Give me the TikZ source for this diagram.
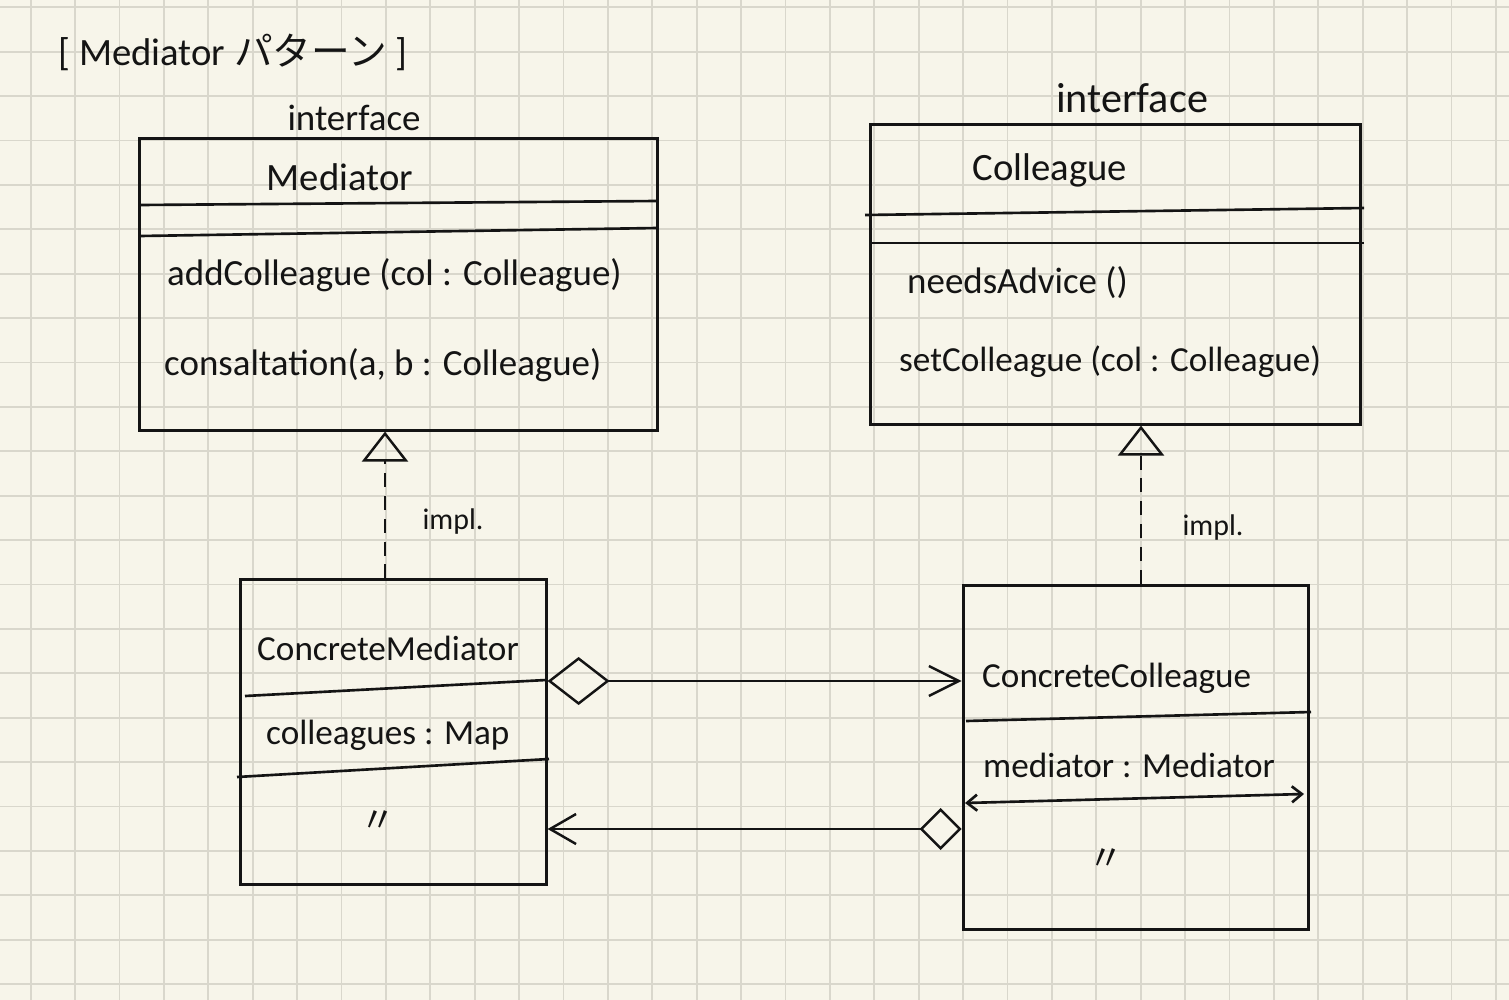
\documentclass[tikz,border=0pt]{standalone}
\usepackage{fontspec}
\setmainfont{Carlito}
\newfontfamily\jpfont{Noto Sans CJK JP}
\usetikzlibrary{positioning,arrows.meta}
\definecolor{paper}{HTML}{F7F5EA}
\definecolor{gridc}{HTML}{D9D7CC}
\definecolor{ink}{HTML}{141414}
\tikzset{
  gridline/.style={draw=gridc, line width=0.55pt},
  classbox/.style={draw=ink, line width=0.85pt, inner sep=0pt},
  divline/.style={draw=ink, line width=0.75pt},
  cname/.style={font=\fontsize{11}{13}\selectfont, text=ink, inner sep=1pt},
  member/.style={font=\fontsize{10.5}{12.5}\selectfont, text=ink, anchor=west, inner sep=1pt},
  smalltext/.style={font=\fontsize{10}{12}\selectfont},
  stereo/.style={font=\fontsize{10.5}{12.5}\selectfont, text=ink, inner sep=1pt},
  implabel/.style={font=\fontsize{8.5}{10}\selectfont, text=ink, inner sep=1pt},
  ditto/.style={font=\jpfont\fontsize{10}{12}\selectfont, text=ink, inner sep=1pt},
  titlelabel/.style={font=\fontsize{11}{13}\selectfont, text=ink, inner sep=1pt},
  realize/.style={draw=ink, line width=0.7pt, dash pattern=on 4pt off 2.5pt, -{Triangle[open, length=0.3cm, width=0.46cm]}},
  aggr/.style={draw=ink, line width=0.7pt, {Diamond[open, length=0.62cm, width=0.48cm]}-{Straight Barb[length=0.3cm, width=0.3cm]}},
  aggrsmall/.style={draw=ink, line width=0.7pt, {Diamond[open, length=0.42cm, width=0.42cm]}-{Straight Barb[length=0.26cm, width=0.3cm]}}
}
\begin{document}
\begin{tikzpicture}[x=0.01cm, y=-0.01cm]
  \fill[paper] (0,0) rectangle (1509,1000);
  \useasboundingbox (0,0) rectangle (1509,1000);
  \foreach \i in {0,...,33} \draw[gridline] (30.7+44.4*\i,0) -- (30.7+44.4*\i,1000);
  \foreach \j in {0,...,22} \draw[gridline] (0,7.3+44.4*\j) -- (1509,7.3+44.4*\j);

  \node[titlelabel] (title) at (233,52) {[\ Mediator {\jpfont パターン}\ ]};

  \node[classbox, minimum width=5.17cm, minimum height=2.91cm] (med) at (398.5,284.5) {};
  \node[stereo] (medst) at (354,118) {interface};
  \node[cname] (medname) at (340,177) {Mediator};
  \node[member] (medop1) at (163,275) {addColleague (col : Colleague)};
  \node[member] (medop2) at (160,365) {consaltation(a, b : Colleague)};
  \draw[divline] (140,205) -- (657,201);
  \draw[divline] (140,236) -- (657,228);

  \node[classbox, minimum width=4.89cm, minimum height=2.99cm] (col) at (1115.5,274.5) {};
  \node[stereo, font=\fontsize{12}{14}\selectfont] (colst) at (1132,98) {interface};
  \node[cname] (colname) at (1050,170) {Colleague};
  \node[member] (colop1) at (903,283) {needsAdvice ()};
  \node[member, smalltext] (colop2) at (895,362) {setColleague (col : Colleague)};
  \draw[divline] (865,215) -- (1364,208);
  \draw[divline] (871,243) -- (1364,243);

  \node[classbox, minimum width=3.05cm, minimum height=3.04cm] (cm) at (393.5,732) {};
  \node[cname, smalltext] (cmname) at (388,648) {ConcreteMediator};
  \node[member, smalltext] (cmattr) at (262,735) {colleagues : Map};
  \node[ditto] (cmditto) at (378,822) {〃};
  \draw[divline] (245,696) -- (546,680);
  \draw[divline] (237,777) -- (549,759);

  \node[classbox, minimum width=3.45cm, minimum height=3.44cm] (cc) at (1135.8,757.5) {};
  \node[member, smalltext] (ccname) at (978,678) {ConcreteColleague};
  \node[member, smalltext] (ccattr) at (979,765) {mediator : Mediator};
  \node[ditto] (ccditto) at (1106,860) {〃};
  \draw[divline] (966,721) -- (1311,712);
  \draw[divline, {Straight Barb[length=0.1cm, width=0.16cm]}-{Straight Barb[length=0.1cm, width=0.16cm]}] (965,803) -- (1304,794);

  \coordinate (r1) at (385,0);
  \coordinate (r2) at (1141,0);
  \coordinate (a1) at (0,681);
  \coordinate (a2) at (0,829);
  \draw[realize] (cm.north -| r1) -- (med.south -| r1);
  \draw[realize] (cc.north -| r2) -- (col.south -| r2);
  \node[implabel] (impl1) at (453,522) {impl.};
  \node[implabel] (impl2) at (1213,528) {impl.};
  \draw[aggr] (cm.east |- a1) -- (cc.west |- a1);
  \draw[aggrsmall] (cc.west |- a2) -- (cm.east |- a2);
\end{tikzpicture}
\end{document}
